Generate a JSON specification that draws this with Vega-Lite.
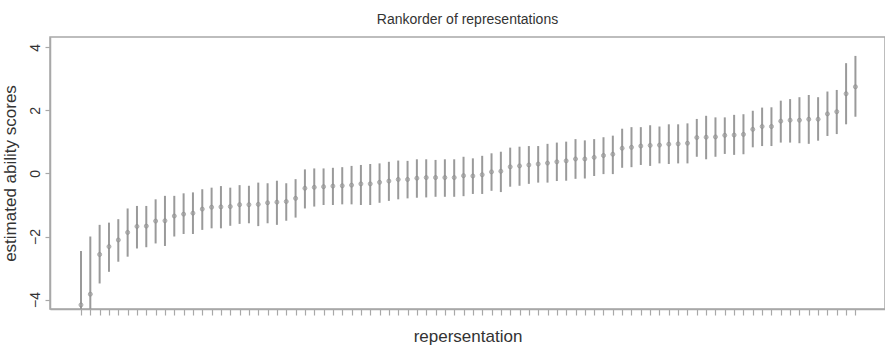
{
  "$schema": "https://vega.github.io/schema/vega-lite/v6.json",
  "autosize": "none",
  "width": 835,
  "height": 272,
  "padding": {"left": 50, "top": 37, "right": 0, "bottom": 39},
  "background": "white",
  "title": {"text": "Rankorder of representations", "font": "Liberation Sans", "fontSize": 14, "fontWeight": "normal", "color": "#333333", "offset": 10, "anchor": "middle"},
  "config": {
    "view": {"stroke": "#a8a8a8", "strokeWidth": 1.5},
    "axis": {"domainColor": "#a8a8a8", "domainWidth": 1.5, "tickColor": "#a8a8a8", "tickWidth": 1.2, "grid": false, "labelFont": "Liberation Sans", "titleFont": "Liberation Sans", "labelColor": "#333333", "titleColor": "#333333", "titleFontWeight": "normal"}
  },
  "data": {"values": [
    {"rank": 1, "est": -4.17, "lo": -5.88, "hi": -2.46},
    {"rank": 2, "est": -3.83, "lo": -5.66, "hi": -2.0},
    {"rank": 3, "est": -2.57, "lo": -3.49, "hi": -1.63},
    {"rank": 4, "est": -2.32, "lo": -3.12, "hi": -1.56},
    {"rank": 5, "est": -2.11, "lo": -2.8, "hi": -1.45},
    {"rank": 6, "est": -1.87, "lo": -2.64, "hi": -1.11},
    {"rank": 7, "est": -1.68, "lo": -2.38, "hi": -1.03},
    {"rank": 8, "est": -1.67, "lo": -2.34, "hi": -1.03},
    {"rank": 9, "est": -1.51, "lo": -2.22, "hi": -0.82},
    {"rank": 10, "est": -1.5, "lo": -2.3, "hi": -0.71},
    {"rank": 11, "est": -1.35, "lo": -2.0, "hi": -0.71},
    {"rank": 12, "est": -1.29, "lo": -1.92, "hi": -0.63},
    {"rank": 13, "est": -1.26, "lo": -1.92, "hi": -0.6},
    {"rank": 14, "est": -1.13, "lo": -1.79, "hi": -0.5},
    {"rank": 15, "est": -1.07, "lo": -1.74, "hi": -0.45},
    {"rank": 16, "est": -1.06, "lo": -1.74, "hi": -0.4},
    {"rank": 17, "est": -1.05, "lo": -1.66, "hi": -0.45},
    {"rank": 18, "est": -0.99, "lo": -1.6, "hi": -0.37},
    {"rank": 19, "est": -0.99, "lo": -1.58, "hi": -0.39},
    {"rank": 20, "est": -0.98, "lo": -1.67, "hi": -0.29},
    {"rank": 21, "est": -0.93, "lo": -1.58, "hi": -0.31},
    {"rank": 22, "est": -0.91, "lo": -1.63, "hi": -0.23},
    {"rank": 23, "est": -0.89, "lo": -1.5, "hi": -0.31},
    {"rank": 24, "est": -0.79, "lo": -1.4, "hi": -0.18},
    {"rank": 25, "est": -0.47, "lo": -1.11, "hi": 0.13},
    {"rank": 26, "est": -0.44, "lo": -1.05, "hi": 0.16},
    {"rank": 27, "est": -0.42, "lo": -1.0, "hi": 0.16},
    {"rank": 28, "est": -0.4, "lo": -1.0, "hi": 0.18},
    {"rank": 29, "est": -0.39, "lo": -0.98, "hi": 0.2},
    {"rank": 30, "est": -0.37, "lo": -0.98, "hi": 0.24},
    {"rank": 31, "est": -0.33, "lo": -1.0, "hi": 0.27},
    {"rank": 32, "est": -0.33, "lo": -1.0, "hi": 0.3},
    {"rank": 33, "est": -0.28, "lo": -0.93, "hi": 0.32},
    {"rank": 34, "est": -0.24, "lo": -0.87, "hi": 0.37},
    {"rank": 35, "est": -0.19, "lo": -0.82, "hi": 0.41},
    {"rank": 36, "est": -0.19, "lo": -0.79, "hi": 0.4},
    {"rank": 37, "est": -0.15, "lo": -0.77, "hi": 0.45},
    {"rank": 38, "est": -0.13, "lo": -0.76, "hi": 0.45},
    {"rank": 39, "est": -0.13, "lo": -0.74, "hi": 0.43},
    {"rank": 40, "est": -0.13, "lo": -0.74, "hi": 0.45},
    {"rank": 41, "est": -0.13, "lo": -0.74, "hi": 0.45},
    {"rank": 42, "est": -0.07, "lo": -0.72, "hi": 0.53},
    {"rank": 43, "est": -0.08, "lo": -0.65, "hi": 0.48},
    {"rank": 44, "est": -0.04, "lo": -0.65, "hi": 0.56},
    {"rank": 45, "est": 0.05, "lo": -0.55, "hi": 0.64},
    {"rank": 46, "est": 0.07, "lo": -0.59, "hi": 0.69},
    {"rank": 47, "est": 0.21, "lo": -0.42, "hi": 0.82},
    {"rank": 48, "est": 0.24, "lo": -0.39, "hi": 0.85},
    {"rank": 49, "est": 0.27, "lo": -0.33, "hi": 0.87},
    {"rank": 50, "est": 0.3, "lo": -0.29, "hi": 0.87},
    {"rank": 51, "est": 0.33, "lo": -0.29, "hi": 0.94},
    {"rank": 52, "est": 0.37, "lo": -0.24, "hi": 0.98},
    {"rank": 53, "est": 0.4, "lo": -0.23, "hi": 1.01},
    {"rank": 54, "est": 0.46, "lo": -0.17, "hi": 1.09},
    {"rank": 55, "est": 0.46, "lo": -0.16, "hi": 1.05},
    {"rank": 56, "est": 0.51, "lo": -0.08, "hi": 1.09},
    {"rank": 57, "est": 0.57, "lo": -0.02, "hi": 1.15},
    {"rank": 58, "est": 0.61, "lo": -0.02, "hi": 1.2},
    {"rank": 59, "est": 0.8, "lo": 0.18, "hi": 1.42},
    {"rank": 60, "est": 0.83, "lo": 0.2, "hi": 1.47},
    {"rank": 61, "est": 0.87, "lo": 0.27, "hi": 1.47},
    {"rank": 62, "est": 0.89, "lo": 0.24, "hi": 1.53},
    {"rank": 63, "est": 0.9, "lo": 0.32, "hi": 1.49},
    {"rank": 64, "est": 0.93, "lo": 0.3, "hi": 1.56},
    {"rank": 65, "est": 0.94, "lo": 0.32, "hi": 1.56},
    {"rank": 66, "est": 0.96, "lo": 0.32, "hi": 1.59},
    {"rank": 67, "est": 1.14, "lo": 0.53, "hi": 1.73},
    {"rank": 68, "est": 1.15, "lo": 0.45, "hi": 1.83},
    {"rank": 69, "est": 1.16, "lo": 0.53, "hi": 1.78},
    {"rank": 70, "est": 1.21, "lo": 0.62, "hi": 1.78},
    {"rank": 71, "est": 1.22, "lo": 0.59, "hi": 1.86},
    {"rank": 72, "est": 1.24, "lo": 0.61, "hi": 1.88},
    {"rank": 73, "est": 1.4, "lo": 0.83, "hi": 1.99},
    {"rank": 74, "est": 1.49, "lo": 0.87, "hi": 2.09},
    {"rank": 75, "est": 1.49, "lo": 0.87, "hi": 2.1},
    {"rank": 76, "est": 1.66, "lo": 0.98, "hi": 2.31},
    {"rank": 77, "est": 1.69, "lo": 0.98, "hi": 2.36},
    {"rank": 78, "est": 1.69, "lo": 0.96, "hi": 2.42},
    {"rank": 79, "est": 1.72, "lo": 0.94, "hi": 2.49},
    {"rank": 80, "est": 1.72, "lo": 1.04, "hi": 2.42},
    {"rank": 81, "est": 1.89, "lo": 1.19, "hi": 2.6},
    {"rank": 82, "est": 1.96, "lo": 1.25, "hi": 2.65},
    {"rank": 83, "est": 2.53, "lo": 1.56, "hi": 3.5},
    {"rank": 84, "est": 2.75, "lo": 1.8, "hi": 3.73}
  ]},
  "layer": [
    {
      "mark": {"type": "rule", "color": "#9a9a9a", "strokeWidth": 2, "clip": true},
      "encoding": {
        "x": {"field": "rank", "type": "quantitative", "scale": {"domain": [-2.32, 87.17], "nice": false, "zero": false},
          "axis": {"values": [1,2,3,4,5,6,7,8,9,10,11,12,13,14,15,16,17,18,19,20,21,22,23,24,25,26,27,28,29,30,31,32,33,34,35,36,37,38,39,40,41,42,43,44,45,46,47,48,49,50,51,52,53,54,55,56,57,58,59,60,61,62,63,64,65,66,67,68,69,70,71,72,73,74,75,76,77,78,79,80,81,82,83,84],
            "tickCount": 200, "labels": false, "tickSize": 6, "title": "repersentation", "titleFontSize": 17, "titlePadding": 13}},
        "y": {"field": "lo", "type": "quantitative", "scale": {"domain": [-4.3, 4.33], "nice": false, "zero": false},
          "axis": {"values": [-4, -2, 0, 2, 4], "tickSize": 5, "labelAngle": -90, "labelAlign": "center", "labelBaseline": "bottom", "labelPadding": 3, "labelFontSize": 14, "title": "estimated ability scores", "titleFontSize": 17, "titlePadding": 9}},
        "y2": {"field": "hi"}
      }
    },
    {
      "mark": {"type": "point", "shape": "circle", "size": 16, "filled": true, "color": "#a0a0a0", "stroke": "#8c8c8c", "strokeWidth": 1, "clip": true},
      "encoding": {
        "x": {"field": "rank", "type": "quantitative"},
        "y": {"field": "est", "type": "quantitative"}
      }
    }
  ]
}
